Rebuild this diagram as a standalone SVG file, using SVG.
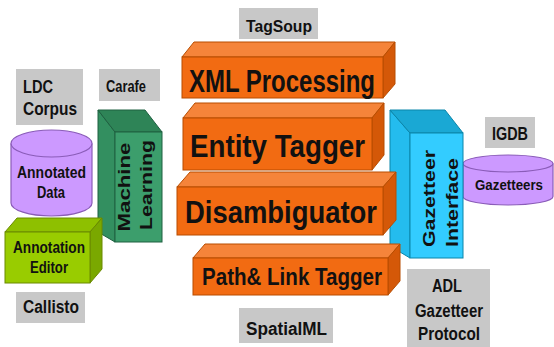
<svg xmlns="http://www.w3.org/2000/svg" width="554" height="347" viewBox="0 0 554 347">
<style>
text{font-family:"Liberation Sans",Arial,sans-serif;font-weight:bold;fill:#111;text-anchor:middle}
.lbl{fill:#c8c8c8}
.of{fill:#f26b12;stroke:#b84d00;stroke-width:1}
.ot{fill:#f5843a;stroke:#b84d00;stroke-width:1}
.os{fill:#d45808;stroke:#b84d00;stroke-width:1}
.gf{fill:#3c9e6c;stroke:#1e6040;stroke-width:1}
.gt{fill:#2e8457;stroke:#1e6040;stroke-width:1}
.gs{fill:#338f60;stroke:#1e6040;stroke-width:1}
.lf{fill:#99cc00;stroke:#6a8a00;stroke-width:1}
.lt{fill:#8ec000;stroke:#6a8a00;stroke-width:1}
.ls{fill:#7aa800;stroke:#6a8a00;stroke-width:1}
.cf{fill:#33ccff;stroke:#0a86aa;stroke-width:1}
.ct{fill:#1aa8d4;stroke:#0a86aa;stroke-width:1}
.cs{fill:#24bcee;stroke:#0a86aa;stroke-width:1}
.cyl{fill:#cc99ff;stroke:#8a5cb8;stroke-width:1.2}
</style>
<g id="ldc-corpus"><rect class="lbl" x="16" y="69" width="67" height="56"/>
<text x="38" y="93" font-size="18" textLength="30" lengthAdjust="spacingAndGlyphs">LDC</text>
<text x="50" y="115" font-size="18" textLength="54" lengthAdjust="spacingAndGlyphs">Corpus</text></g>
<g id="carafe"><rect class="lbl" x="99" y="69" width="61" height="32"/>
<text x="126" y="92" font-size="17" textLength="40" lengthAdjust="spacingAndGlyphs">Carafe</text></g>
<g id="tagsoup"><rect class="lbl" x="239" y="8" width="79" height="31"/>
<text x="279" y="32" font-size="17" textLength="66" lengthAdjust="spacingAndGlyphs">TagSoup</text></g>
<g id="spatialml"><rect class="lbl" x="239" y="308" width="94" height="35"/>
<text x="286.5" y="335" font-size="18" textLength="81" lengthAdjust="spacingAndGlyphs">SpatialML</text></g>
<g id="callisto"><rect class="lbl" x="16" y="292" width="69" height="31"/>
<text x="51" y="313" font-size="18" textLength="56" lengthAdjust="spacingAndGlyphs">Callisto</text></g>
<g id="igdb"><rect class="lbl" x="485" y="117" width="50" height="31"/>
<text x="510" y="140" font-size="19" textLength="36" lengthAdjust="spacingAndGlyphs">IGDB</text></g>
<g id="adl"><rect class="lbl" x="407" y="269" width="83" height="78"/>
<text x="447" y="292" font-size="18" textLength="30" lengthAdjust="spacingAndGlyphs">ADL</text>
<text x="449" y="317" font-size="18" textLength="68" lengthAdjust="spacingAndGlyphs">Gazetteer</text>
<text x="449" y="340" font-size="18" textLength="62" lengthAdjust="spacingAndGlyphs">Protocol</text></g>

<g id="machine-learning">
<polygon class="gs" points="98,110 115,132 115,242 98,232"/>
<polygon class="gt" points="98,110 145,110 162,132 115,132"/>
<rect class="gf" x="115" y="132" width="47" height="110"/>
<text transform="translate(130,187) rotate(-90)" font-size="17" textLength="89" lengthAdjust="spacingAndGlyphs">Machine</text>
<text transform="translate(152,185) rotate(-90)" font-size="17" textLength="90" lengthAdjust="spacingAndGlyphs">Learning</text>
</g>
<g id="annotated-data">
<path class="cyl" d="M11,143.5 V203 A40.5,13 0 0 0 92,203 V143.5"/>
<ellipse class="cyl" cx="51.5" cy="143.5" rx="40.5" ry="13.5"/>
<text x="51.5" y="178" font-size="16.5" textLength="69" lengthAdjust="spacingAndGlyphs">Annotated</text>
<text x="51" y="198" font-size="16.5" textLength="28" lengthAdjust="spacingAndGlyphs">Data</text>
</g>
<g id="annotation-editor">
<polygon class="lt" points="5,232 17,218 102,218 90,232"/>
<polygon class="ls" points="90,232 102,218 102,269 90,283"/>
<rect class="lf" x="5" y="232" width="85" height="51"/>
<text x="49" y="253" font-size="17" textLength="72" lengthAdjust="spacingAndGlyphs">Annotation</text>
<text x="49" y="273" font-size="17" textLength="38" lengthAdjust="spacingAndGlyphs">Editor</text>
</g>

<g id="gazetteers">
<path class="cyl" d="M463,163.5 V196.5 A45,8.5 0 0 0 553,196.5 V163.5"/>
<ellipse class="cyl" cx="508" cy="163.5" rx="45" ry="8.5"/>
<text x="509" y="190" font-size="15.5" textLength="68" lengthAdjust="spacingAndGlyphs">Gazetteers</text>
</g>
<g id="gazetteer-interface">
<polygon class="cs" points="390,110 410,133 410,258 390,246"/>
<polygon class="ct" points="390,110 445,110 463,133 410,133"/>
<rect class="cf" x="410" y="133" width="53" height="125"/>
<text transform="translate(435,247) rotate(-90)" font-size="17" style="text-anchor:start" textLength="97" lengthAdjust="spacingAndGlyphs">Gazetteer</text>
<text transform="translate(458,247) rotate(-90)" font-size="17" style="text-anchor:start" textLength="89" lengthAdjust="spacingAndGlyphs">Interface</text>
</g>

<g id="xml-processing">
<polygon class="ot" points="182,57 194,42 395,42 383,57"/>
<polygon class="os" points="383,57 395,42 395,84 383,98"/>
<rect class="of" x="182" y="57" width="201" height="41"/>
<text x="282" y="92" font-size="32" textLength="186" lengthAdjust="spacingAndGlyphs">XML Processing</text>
</g>
<g id="entity-tagger">
<polygon class="ot" points="183,118 195,103 384,103 372,118"/>
<polygon class="os" points="372,118 384,103 384,155 372,170"/>
<rect class="of" x="183" y="118" width="189" height="52"/>
<text x="277.5" y="157" font-size="32" textLength="175" lengthAdjust="spacingAndGlyphs">Entity Tagger</text>
</g>
<g id="disambiguator">
<polygon class="ot" points="177,187 190,172 396,172 383,187"/>
<polygon class="os" points="383,187 396,172 396,220 383,235"/>
<rect class="of" x="177" y="187" width="206" height="48"/>
<text x="281" y="223" font-size="32" textLength="192" lengthAdjust="spacingAndGlyphs">Disambiguator</text>
</g>
<g id="path-link-tagger">
<polygon class="ot" points="193,258 205,244 400,244 388,258"/>
<polygon class="os" points="388,258 400,244 400,281 388,295"/>
<rect class="of" x="193" y="258" width="195" height="37"/>
<text x="292" y="285" font-size="24" textLength="180" lengthAdjust="spacingAndGlyphs">Path&amp; Link Tagger</text>
</g>
<g id="connectors"></g>
</svg>
